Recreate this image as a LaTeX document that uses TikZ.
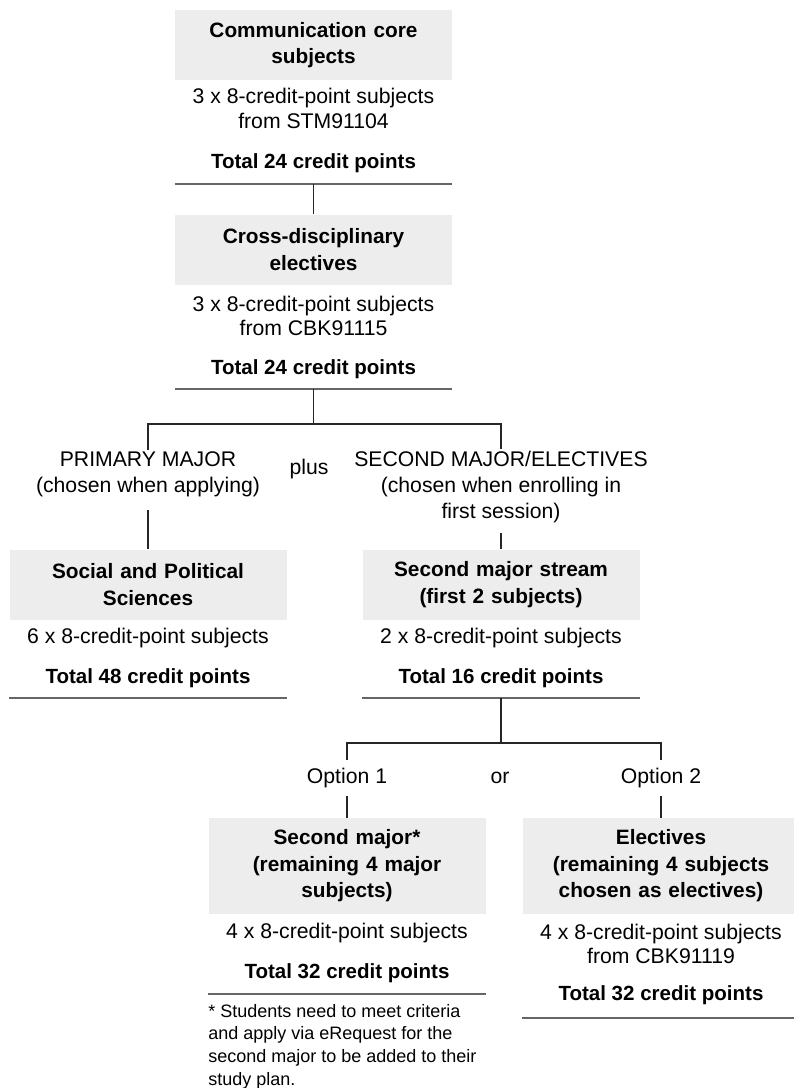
\documentclass[tikz,border=0pt]{standalone}
\usepackage{fontspec}
\setmainfont{Liberation Sans}
\definecolor{boxgray}{HTML}{EDEDED}
\tikzset{
  box/.style={fill=boxgray,inner sep=0pt,minimum width=207.75pt,minimum height=52.5pt,text width=200pt,align=center,font=\fontsize{15.6}{19.8}\selectfont\bfseries},
  tallbox/.style={box,minimum height=72pt},
  sub/.style={align=center,inner sep=1pt,font=\fontsize{15.9}{18.5}\selectfont},
  tot/.style={inner sep=1pt,font=\fontsize{15.4}{18}\selectfont\bfseries},
  lab/.style={align=center,inner sep=1.5pt,font=\fontsize{15.9}{19.5}\selectfont},
  opt/.style={lab,inner sep=6pt},
  note/.style={align=left,inner sep=0pt,font=\fontsize{13.5}{17}\selectfont},
  link/.style={draw=black!85,line width=0.9pt},
  rule/.style={draw=black!60,line width=1pt}
}
\begin{document}
\begin{tikzpicture}[x=0.75pt,y=-0.75pt]
\useasboundingbox (0,0) rectangle (793,1088);
\node[box] (b1)at(313.5,45){Communication core\\subjects};
\node[sub] (s1)at(313.5,108.5){3 x 8-credit-point subjects\\from STM91104};
\node[tot] (t1)at(313.5,163){Total 24 credit points};
\coordinate (u1)at(313.5,184);
\node[box] (b2)at(313.5,249.5){Cross-disciplinary\\electives};
\node[sub] (s2)at(313.5,316){3 x 8-credit-point subjects\\from CBK91115};
\node[tot] (t2)at(313.5,369){Total 24 credit points};
\coordinate (u2)at(313.5,389);
\coordinate (j2)at(313.5,424);
\node[lab] (p1)at(148,474.5){PRIMARY MAJOR\\(chosen when applying)};
\node[lab] (plus)at(309,469){plus};
\node[lab] (p2)at(501,487){SECOND MAJOR/ELECTIVES\\(chosen when enrolling in\\first session)};
\node[box] (b3)at(148,584.5){Social and Political\\Sciences};
\node[sub] (s3)at(148,638){6 x 8-credit-point subjects};
\node[tot] (t3)at(148,678){Total 48 credit points};
\coordinate (u3)at(148,698);
\node[box] (b4)at(501,584.5){Second major stream\\(first 2 subjects)};
\node[sub] (s4)at(501,638){2 x 8-credit-point subjects};
\node[tot] (t4)at(501,678){Total 16 credit points};
\coordinate (u4)at(501,698);
\coordinate (j4)at(501,743);
\node[opt] (o1)at(347,778){Option 1};
\node[lab] (or)at(500,778){or};
\node[opt] (o2)at(661,778){Option 2};
\node[tallbox] (b5)at(347,866){Second major*\\(remaining 4 major\\subjects)};
\node[sub] (s5)at(347,933){4 x 8-credit-point subjects};
\node[tot] (t5)at(347,973){Total 32 credit points};
\coordinate (u5)at(347,994);
\node[note,anchor=north west] (n5)at(208,1004){* Students need to meet criteria\\and apply via eRequest for the\\second major to be added to their\\study plan.};
\node[tallbox] (b6)at(661,866){Electives\\(remaining 4 subjects\\chosen as electives)};
\node[sub] (s6)at(661,944){4 x 8-credit-point subjects\\from CBK91119};
\node[tot] (t6)at(661,995){Total 32 credit points};
\coordinate (u6)at(661,1018);
\draw[rule] (b1.west |- u1) -- (b1.east |- u1);
\draw[rule] (b2.west |- u2) -- (b2.east |- u2);
\draw[rule] (b3.west |- u3) -- (b3.east |- u3);
\draw[rule] (b4.west |- u4) -- (b4.east |- u4);
\draw[rule] (b5.west |- u5) -- (b5.east |- u5);
\draw[rule] (b6.west |- u6) -- (b6.east |- u6);
\draw[link] (u1) -- (b2);
\draw[link] (u2) -- (j2);
\draw[link] (p1.north) |- (j2) -| (p2.north);
\draw[link] ([yshift=-8pt]p1.south) -- (b3);
\draw[link] ([yshift=-6pt]p2.south) -- (b4);
\draw[link] (u4) -- (j4);
\draw[link] (o1.north) |- (j4) -| (o2.north);
\draw[link] (o1) -- (b5);
\draw[link] (o2) -- (b6);
\end{tikzpicture}
\end{document}
